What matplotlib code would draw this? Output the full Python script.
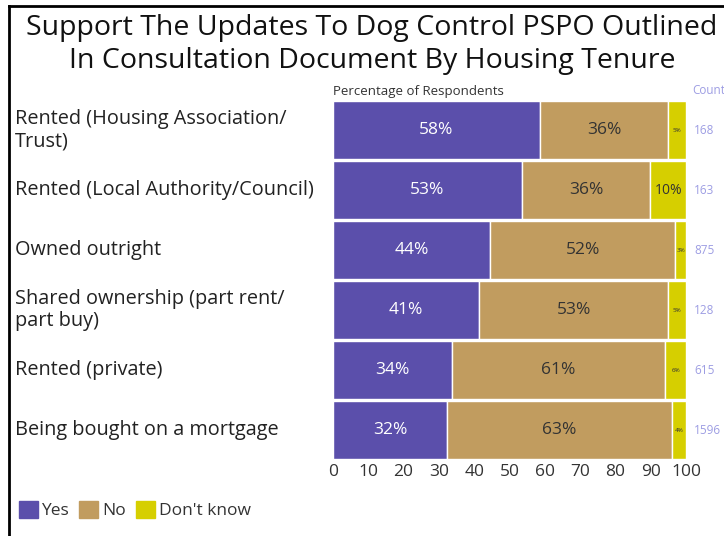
import matplotlib.pyplot as plt
from matplotlib.patches import Patch
from matplotlib.lines import Line2D

# data
categories = ['Rented (Housing Association/\nTrust)',
              'Rented (Local Authority/Council)',
              'Owned outright',
              'Shared ownership (part rent/\npart buy)',
              'Rented (private)',
              'Being bought on a mortgage']
yes = [58, 53, 44, 41, 34, 32]
no = [36, 36, 52, 53, 61, 63]
dont_know = [5, 10, 3, 5, 6, 4]
counts = [168, 163, 875, 128, 615, 1596]

c_yes = '#5b4fab'
c_no = '#c19c5f'
c_dk = '#d6cf00'

plt.rcParams['font.family'] = ['Open Sans', 'DejaVu Sans']

fig = plt.figure(figsize=(7.24, 5.36), dpi=100)
ax = fig.add_axes([333/724, 1-460/536, 353/724, 360/536])

# rounded labels don't add to exactly 100, so scale each row to 100%
tot = [a + b + c for a, b, c in zip(yes, no, dont_know)]
w_yes = [a / t * 100 for a, t in zip(yes, tot)]
w_no = [a / t * 100 for a, t in zip(no, tot)]
w_dk = [a / t * 100 for a, t in zip(dont_know, tot)]
left_dk = [a + b for a, b in zip(w_yes, w_no)]

y = list(range(len(categories)))
ax.barh(y, w_yes, height=0.98, color=c_yes, edgecolor='white', linewidth=1)
ax.barh(y, w_no, left=w_yes, height=0.98, color=c_no, edgecolor='white', linewidth=1)
ax.barh(y, w_dk, left=left_dk, height=0.98, color=c_dk, edgecolor='white', linewidth=1)

for i in y:
    ax.text(w_yes[i] / 2, i, f'{yes[i]}%', ha='center', va='center', color='white', fontsize=12.5)
    ax.text(w_yes[i] + w_no[i] / 2, i, f'{no[i]}%', ha='center', va='center', color='#333333',
            fontsize=12.5)
    fs = 10 if dont_know[i] >= 10 else 4.5
    ax.text(left_dk[i] + w_dk[i] / 2, i, f'{dont_know[i]}%', ha='center', va='center',
            color='#333333', fontsize=fs)
    ax.text(102.3, i, f'{counts[i]}', ha='left', va='center', color='#9d9de3', fontsize=8.5,
            clip_on=False)

ax.set_xlim(0, 100)
ax.set_ylim(len(categories) - 0.5, -0.5)
ax.set_yticks([])
ax.set_xticks(range(0, 101, 10))
ax.tick_params(axis='x', length=0, labelsize=12.5, labelcolor='#333333', pad=3)
for s in ax.spines.values():
    s.set_visible(False)

# category labels, left aligned at the figure edge
for i, cat in enumerate(categories):
    fig.text(15/724, 1 - (130 + 60*i)/536, cat, ha='left', va='center', fontsize=14.3,
             color='#222222', linespacing=1.15)

fig.text(372/724, 1 - 28/536, 'Support The Updates To Dog Control PSPO Outlined', ha='center',
         va='center', fontsize=20.5, color='#111111')
fig.text(372/724, 1 - 61/536, 'In Consultation Document By Housing Tenure', ha='center',
         va='center', fontsize=20.5, color='#111111')
fig.text(333/724, 1 - 91/536, 'Percentage of Respondents', ha='left', va='center',
         fontsize=9.5, color='#333333')
fig.text(692/724, 1 - 90/536, 'Count', ha='left', va='center', fontsize=8.5, color='#9d9de3')

handles = [Patch(color=c_yes), Patch(color=c_no), Patch(color=c_dk)]
fig.legend(handles, ['Yes', 'No', "Don't know"], loc='center left',
           bbox_to_anchor=(3/724, 1 - 510/536), ncol=3, frameon=False, fontsize=12.5,
           handlelength=1.1, handleheight=1.1, handletextpad=0.2, columnspacing=0.6,
           labelcolor='#333333')

# frame lines top and left
fig.add_artist(Line2D([9/724, 1], [1 - 6/536, 1 - 6/536], color='black', linewidth=2))
fig.add_artist(Line2D([9/724, 9/724], [0, 1 - 6/536], color='black', linewidth=2))

fig.savefig('out.png', dpi=100)
